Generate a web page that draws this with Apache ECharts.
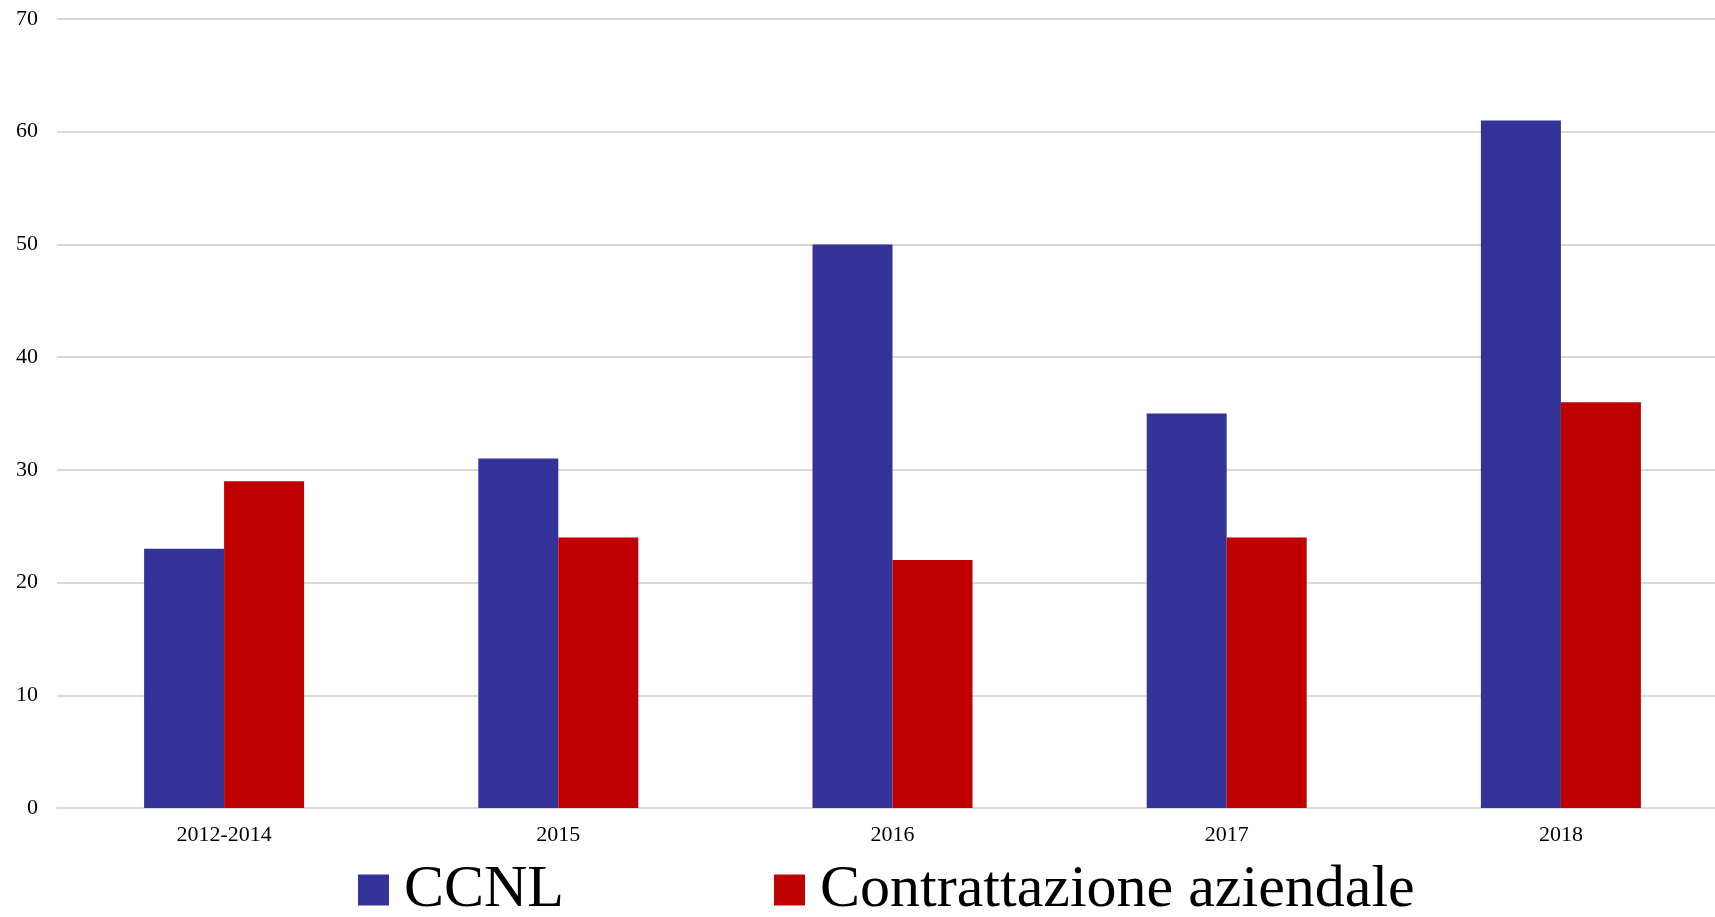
<!DOCTYPE html>
<html>
<head>
<meta charset="utf-8">
<script src="https://cdn.jsdelivr.net/npm/echarts@6/dist/echarts.min.js"></script>
<style>
  html, body { margin: 0; padding: 0; background: #ffffff; }
  #chart { width: 1715px; height: 917px; }
</style>
</head>
<body>
<div id="chart"></div>
<script>
// Categories and values
const categories = ['2012-2014', '2015', '2016', '2017', '2018'];
const ccnl = [23, 31, 50, 35, 61];
const aziendale = [29, 24, 22, 24, 36];
const seriesNames = ['CCNL', 'Contrattazione aziendale'];

const FONT = '"Liberation Serif", "Times New Roman", serif';

const chart = echarts.init(document.getElementById('chart'), null, { renderer: 'canvas' });

chart.setOption({
  animation: false,
  backgroundColor: '#ffffff',
  // the plot runs slightly past the right edge of the canvas
  grid: { left: 57, right: -13, top: 19, bottom: 109, containLabel: false, outerBoundsMode: 'none' },
  legend: {
    left: 353,
    top: 852,
    itemWidth: 31,
    itemHeight: 31,
    itemGap: 210,
    icon: 'rect',
    textStyle: { fontFamily: FONT, fontSize: 60, lineHeight: 60, color: '#000000', padding: [6, 0, 0, 10] },
    data: seriesNames
  },
  xAxis: {
    type: 'category',
    data: categories,
    axisLine: { show: true, lineStyle: { color: '#d9d9d9', width: 2 } },
    axisTick: { show: false },
    axisLabel: { fontFamily: FONT, fontSize: 22, color: '#000000', margin: 16 }
  },
  yAxis: {
    type: 'value',
    min: 0,
    max: 70,
    interval: 10,
    axisLine: { show: false },
    axisTick: { show: false },
    axisLabel: { fontFamily: FONT, fontSize: 22, color: '#000000', margin: 19 },
    splitLine: { lineStyle: { color: '#d9d9d9', width: 2 } }
  },
  series: [
    {
      name: seriesNames[0],
      type: 'bar',
      data: ccnl,
      barWidth: 80,
      barGap: '0%',
      itemStyle: { color: '#333399' }
    },
    {
      name: seriesNames[1],
      type: 'bar',
      data: aziendale,
      barWidth: 80,
      barGap: '0%',
      itemStyle: { color: '#c00000' }
    }
  ]
});
</script>
</body>
</html>
